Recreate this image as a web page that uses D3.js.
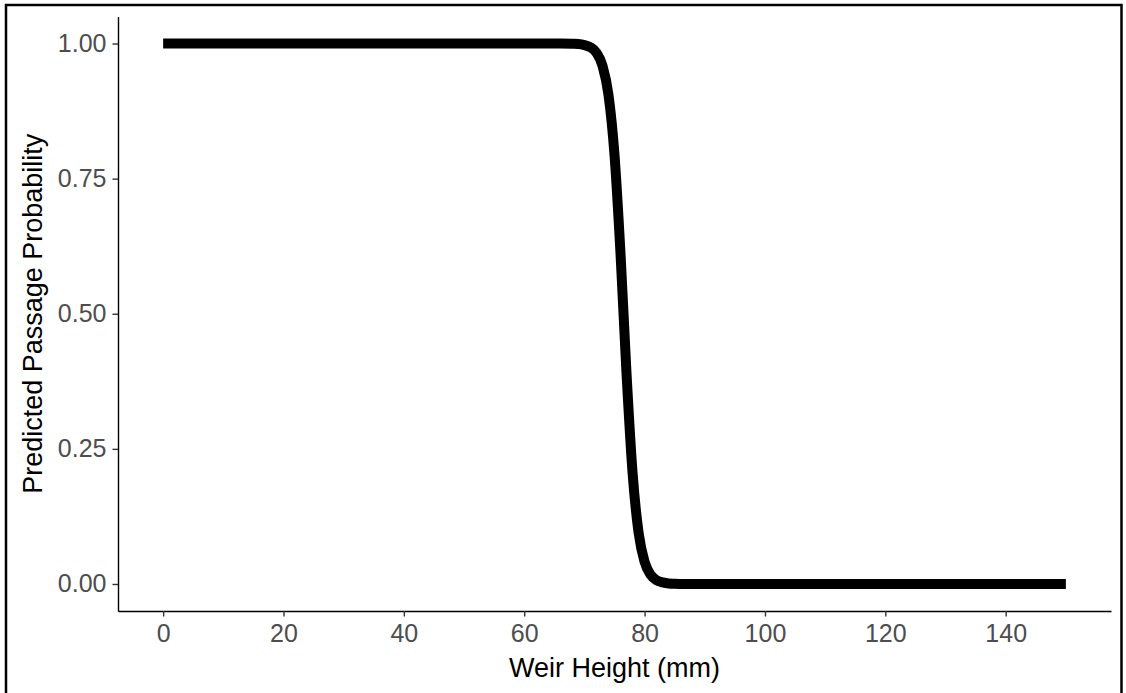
<!DOCTYPE html>
<html>
<head>
<meta charset="utf-8">
<script src="https://cdn.jsdelivr.net/npm/d3@7"></script>
<style>
  html, body { margin: 0; padding: 0; background: #fff; }
  svg { display: block; }
</style>
</head>
<body>
<script>
// Predicted passage probability across weir heights (mm)
const weirHeight = [0, 10, 20, 30, 40, 50, 60, 64, 66, 68, 69, 70, 71, 72, 73, 74, 75, 76, 77, 78, 79, 80, 81, 82, 83, 84, 85, 87, 90, 100, 110, 120, 130, 140, 150];
const passageProb = [1.000, 1.000, 1.000, 1.000, 1.000, 1.000, 1.000, 1.000, 1.000, 0.9995, 0.999, 0.997, 0.993, 0.983, 0.959, 0.905, 0.794, 0.611, 0.389, 0.206, 0.095, 0.041, 0.017, 0.007, 0.003, 0.001, 0.0005, 0.0001, 0.000, 0.000, 0.000, 0.000, 0.000, 0.000, 0.000];

const xTicks = [0, 20, 40, 60, 80, 100, 120, 140];
const yTicks = [0, 0.25, 0.5, 0.75, 1.0];

const W = 1126, H = 693;
const plot = { left: 118, right: 1111, top: 16.5, bottom: 611 };

const svg = d3.select("body").append("svg")
  .attr("width", W).attr("height", H);

// outer frame
svg.append("rect")
  .attr("x", 6).attr("y", 5)
  .attr("width", 1115.5).attr("height", 710)
  .attr("fill", "none").attr("stroke", "#000").attr("stroke-width", 2.5);

const x = d3.scaleLinear().domain([-7.5, 157.5]).range([plot.left, plot.right]);
const y = d3.scaleLinear().domain([-0.05, 1.05]).range([plot.bottom, plot.top]);

const fmt = d3.format(".2f");

// y axis
const yAxis = svg.append("g")
  .attr("transform", `translate(${plot.left},0)`)
  .call(d3.axisLeft(y).tickValues(yTicks).tickFormat(fmt)
    .tickSizeInner(5.5).tickSizeOuter(0).tickPadding(6));

// x axis
const xAxis = svg.append("g")
  .attr("transform", `translate(0,${plot.bottom})`)
  .call(d3.axisBottom(x).tickValues(xTicks)
    .tickSizeInner(5.5).tickSizeOuter(0).tickPadding(8));

[xAxis, yAxis].forEach(g => {
  g.select(".domain").attr("stroke", "#000").attr("stroke-width", 1.4);
  g.selectAll(".tick line").attr("stroke", "#333").attr("stroke-width", 1.4);
  g.selectAll(".tick text")
    .attr("fill", "#4D4D4D")
    .style("font-family", "'Liberation Sans', Arial, sans-serif")
    .style("font-size", "25px");
});

// fitted curve
const line = d3.line()
  .x((d, i) => x(weirHeight[i]))
  .y(d => y(d))
  .curve(d3.curveMonotoneX);

svg.append("path")
  .datum(passageProb)
  .attr("d", line)
  .attr("fill", "none")
  .attr("stroke", "#000")
  .attr("stroke-width", 10)
  .attr("stroke-linejoin", "round")
  .attr("stroke-linecap", "butt");

// axis titles
svg.append("text")
  .attr("x", (plot.left + plot.right) / 2)
  .attr("y", 677)
  .attr("text-anchor", "middle")
  .style("font-family", "'Liberation Sans', Arial, sans-serif")
  .style("font-size", "27px")
  .attr("fill", "#000")
  .text("Weir Height (mm)");

svg.append("text")
  .attr("transform", `translate(41.5,${(plot.top + plot.bottom) / 2}) rotate(-90)`)
  .attr("text-anchor", "middle")
  .style("font-family", "'Liberation Sans', Arial, sans-serif")
  .style("font-size", "27px")
  .attr("fill", "#000")
  .text("Predicted Passage Probability");
</script>
</body>
</html>
